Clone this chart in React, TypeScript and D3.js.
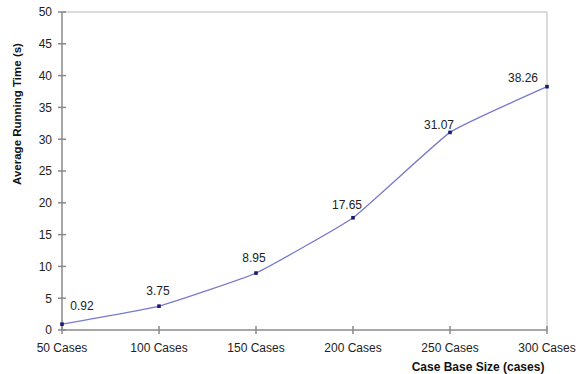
import React from "react";
import * as d3 from "d3";

const categories = ["50 Cases", "100 Cases", "150 Cases", "200 Cases", "250 Cases", "300 Cases"];
const values = [0.92, 3.75, 8.95, 17.65, 31.07, 38.26];
const yTicks = [0, 5, 10, 15, 20, 25, 30, 35, 40, 45, 50];
const yTitle = "Average Running Time (s)";
const xTitle = "Case Base Size (cases)";

// label placement relative to each point (layout only)
const labelDx = [20, -1, -2, -6, -11, -24];
const labelDy = [-14, -11, -11, -9, -3, -5];

export default function App() {
  const W = 584, H = 374;
  const left = 62, right = 547, top = 12, bottom = 330;
  const x = d3.scalePoint<string>().domain(categories).range([left, right]);
  const y = d3.scaleLinear().domain([0, 50]).range([bottom, top]);
  const line = d3
    .line<number>()
    .x((_, i) => x(categories[i])!)
    .y((d) => y(d))
    .curve(d3.curveCardinal.tension(0.65));
  const font = "'Liberation Sans', Arial, sans-serif";
  return (
    <svg width={W} height={H} style={{ position: "absolute", left: 0, top: 0, background: "#fff" }} fontFamily={font}>
      <rect x={0} y={0} width={W} height={H} fill="#fff" />
      <line x1={left} y1={top} x2={right} y2={top} stroke="#cfcfcf" strokeWidth={1.5} />
      <line x1={right} y1={top} x2={right} y2={bottom} stroke="#cfcfcf" strokeWidth={1.5} />
      <line x1={left} y1={top} x2={left} y2={bottom} stroke="#8a8a8a" strokeWidth={1.5} />
      <line x1={left} y1={bottom} x2={right} y2={bottom} stroke="#8a8a8a" strokeWidth={1.5} />
      {yTicks.map((t) => (
        <g key={t}>
          <line x1={left - 4} x2={left + 4} y1={y(t)} y2={y(t)} stroke="#8a8a8a" strokeWidth={1.5} />
          <text x={left - 10} y={y(t)} dy="0.36em" textAnchor="end" fontSize={12} fill="#222">
            {t}
          </text>
        </g>
      ))}
      {categories.map((c) => (
        <g key={c}>
          <line x1={x(c)!} x2={x(c)!} y1={bottom - 4} y2={bottom + 4} stroke="#8a8a8a" strokeWidth={1.5} />
          <text x={x(c)!} y={bottom + 22} textAnchor="middle" fontSize={12} fill="#222">
            {c}
          </text>
        </g>
      ))}
      <path d={line(values)!} fill="none" stroke="#7a7acc" strokeWidth={1.3} />
      {values.map((v, i) => (
        <rect key={i} x={x(categories[i])! - 1.8} y={y(v) - 1.8} width={3.6} height={3.6} fill="#1a1a70" />
      ))}
      {values.map((v, i) => (
        <text
          key={"l" + i}
          x={x(categories[i])! + labelDx[i]}
          y={y(v) + labelDy[i]}
          textAnchor="middle"
          fontSize={12}
          fill="#222"
        >
          {v.toFixed(2)}
        </text>
      ))}
      <text
        transform={`translate(21, 114) rotate(-90)`}
        textAnchor="middle"
        fontSize={11.5}
        fontWeight="bold"
        fill="#111"
      >
        {yTitle}
      </text>
      <text x={478} y={371} textAnchor="middle" fontSize={12} fontWeight="bold" fill="#111">
        {xTitle}
      </text>
    </svg>
  );
}
